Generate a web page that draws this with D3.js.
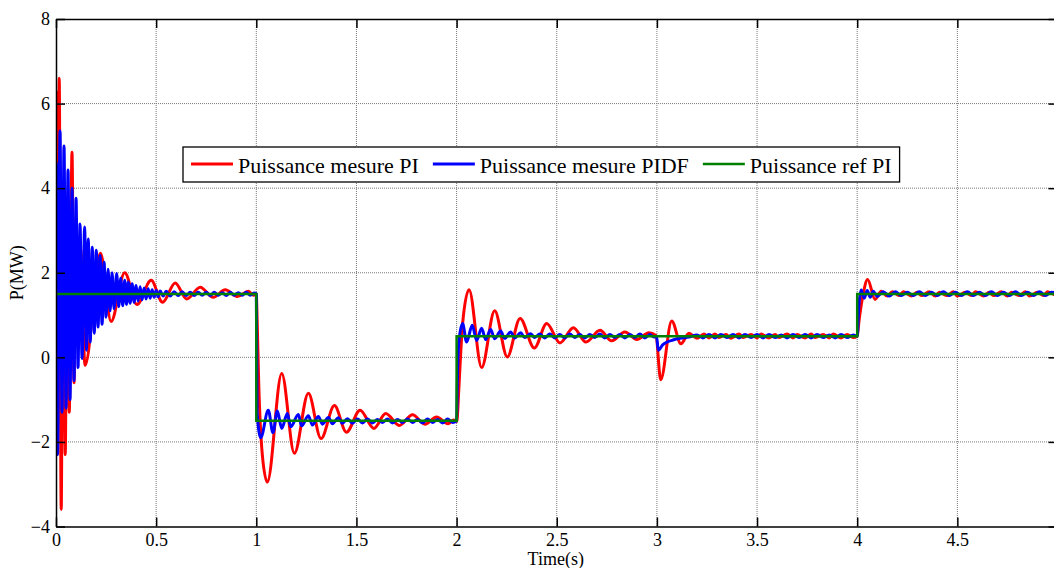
<!DOCTYPE html>
<html>
<head>
<meta charset="utf-8">
<script src="https://cdn.jsdelivr.net/npm/d3@7/dist/d3.min.js"></script>
<style>
  html, body { margin: 0; padding: 0; background: #fff; overflow: hidden; }
  svg { display: block; }
  text { font-family: "Liberation Serif", "Times New Roman", serif; fill: #000; }
</style>
</head>
<body>
<svg id="chart" width="1054" height="568"></svg>
<script>
// Axis ticks (the 5 s tick sits on the right edge, unlabelled)
const xTicks = [0, 0.5, 1, 1.5, 2, 2.5, 3, 3.5, 4, 4.5];
const yTicks = [-4, -2, 0, 2, 4, 6, 8];
const xLabel = "Time(s)";
const yLabel = "P(MW)";
const seriesNames = ["Puissance mesure PI", "Puissance mesure PIDF", "Puissance ref PI"];

// Reference power (MW) — steps
const refPI = [[0, 1.5], [1, -1.5], [2, 0.5], [4, 1.5], [5, 1.5]];

// Measured power, PI controller: [time (s), power (MW)]
const piStart = [[0,1.5],[0.003,6.27],[0.009,-1.2],[0.016,6.6],[0.026,-3.6],[0.035,4.0],[0.046,-2.3],[0.056,3.6],[0.066,-1.3],[0.08,4.85],[0.09,-0.6],[0.1,3.3],[0.112,0.3],[0.122,2.6],[0.145,-0.19],[0.222,2.46],[0.275,0.85],[0.343,2.0],[0.404,1.25],[0.475,1.82],[0.532,1.3],[0.595,1.76],[0.652,1.38],[0.72,1.66],[0.785,1.42],[0.845,1.6],[0.905,1.44],[0.96,1.56],[0.985,1.47],[1.0,1.5]];
const piStep1 = [[1.003,1.1],[1.012,-0.6],[1.03,-2.3],[1.055,-2.95],[1.127,-0.38],[1.19,-2.27],[1.26,-0.85],[1.323,-1.92],[1.39,-1.14],[1.45,-1.77],[1.518,-1.25],[1.587,-1.68],[1.646,-1.33],[1.714,-1.61],[1.78,-1.36],[1.842,-1.58],[1.9,-1.41],[1.957,-1.57],[1.985,-1.48],[2.0,-1.52]];
const piStep2 = [[2.003,-1.45],[2.01,-0.85],[2.03,0.8],[2.062,1.6],[2.125,-0.24],[2.19,1.1],[2.253,0.01],[2.317,0.92],[2.388,0.22],[2.45,0.8],[2.516,0.34],[2.583,0.7],[2.646,0.36],[2.716,0.64],[2.774,0.39],[2.84,0.6],[2.9,0.42],[2.96,0.58],[2.995,0.52],[3.019,-0.53],[3.074,0.86],[3.12,0.32],[3.16,0.57],[3.2,0.45],[3.235,0.55]];
const piSteady3 = [[3.26,0.46],[3.29,0.55],[3.31,0.47],[3.345,0.54],[3.37,0.45],[3.41,0.55],[3.43,0.47],[3.47,0.54],[3.5,0.46],[3.52,0.55],[3.56,0.46],[3.59,0.54],[3.61,0.47],[3.65,0.55],[3.68,0.46],[3.7,0.54],[3.74,0.46],[3.77,0.55],[3.79,0.47],[3.83,0.54],[3.86,0.46],[3.88,0.55],[3.92,0.46],[3.95,0.54],[3.98,0.47],[4.0,0.5]];
const piStep4 = [[4.01,0.9],[4.03,1.5],[4.052,1.84],[4.089,1.37],[4.12,1.56],[4.15,1.45],[4.175,1.55],[4.21,1.46],[4.23,1.55],[4.27,1.45],[4.3,1.54],[4.32,1.46],[4.36,1.55],[4.39,1.45],[4.41,1.54],[4.45,1.46],[4.48,1.55],[4.5,1.45],[4.54,1.54],[4.57,1.46],[4.59,1.55],[4.63,1.45],[4.66,1.54],[4.68,1.46],[4.72,1.55],[4.75,1.45],[4.77,1.54],[4.81,1.46],[4.84,1.55],[4.86,1.45],[4.9,1.54],[4.93,1.46],[4.95,1.55],[4.99,1.46]];

// Measured power, PIDF controller: [time (s), power (MW)]
const pidfStart = [[0,1.5],[0.002,4.6],[0.008,-2.3],[0.02,5.35],[0.03,-1.3],[0.04,5.0],[0.05,-1.2],[0.06,4.43],[0.07,-1.0],[0.08,4.0],[0.09,-0.55],[0.1,3.76],[0.11,-0.24],[0.12,3.15],[0.13,-0.03],[0.143,3.08],[0.152,0.17],[0.161,2.8],[0.171,0.36],[0.181,2.6],[0.191,0.57],[0.201,2.53],[0.21,0.72],[0.22,2.41],[0.23,0.78],[0.24,2.25],[0.25,0.95],[0.26,2.08],[0.27,1.1],[0.28,2.0],[0.29,1.15],[0.303,1.98],[0.313,1.2],[0.323,1.87],[0.333,1.22],[0.343,1.82],[0.352,1.25],[0.361,1.78],[0.37,1.28],[0.38,1.74],[0.39,1.3],[0.4,1.7],[0.41,1.33],[0.42,1.67],[0.43,1.36],[0.44,1.64],[0.45,1.38],[0.46,1.62],[0.47,1.4],[0.48,1.6],[0.49,1.42],[0.5,1.58],[0.51,1.43],[0.52,1.57],[0.535,1.45]];
const pidfSteady0 = [[0.55,1.56],[0.57,1.45],[0.59,1.55],[0.61,1.46],[0.63,1.55],[0.65,1.46],[0.67,1.54],[0.69,1.46],[0.71,1.54],[0.73,1.47],[0.75,1.54],[0.77,1.46],[0.79,1.54],[0.81,1.47],[0.83,1.53],[0.85,1.46],[0.87,1.54],[0.89,1.47],[0.91,1.53],[0.93,1.47],[0.95,1.54],[0.97,1.47],[0.99,1.52],[1.0,1.5]];
const pidfStep1 = [[1.004,-1.3],[1.022,-1.9],[1.06,-1.25],[1.083,-1.78],[1.105,-1.27],[1.127,-1.68],[1.155,-1.33],[1.172,-1.64],[1.21,-1.35],[1.226,-1.62],[1.26,-1.38],[1.28,-1.6],[1.31,-1.4],[1.33,-1.58],[1.36,-1.42],[1.38,-1.57],[1.41,-1.43],[1.43,-1.56],[1.455,-1.45],[1.48,-1.56],[1.505,-1.46],[1.53,-1.55],[1.555,-1.46],[1.58,-1.55],[1.605,-1.47],[1.63,-1.54],[1.655,-1.46],[1.68,-1.55],[1.705,-1.47],[1.73,-1.54],[1.755,-1.46],[1.78,-1.54],[1.805,-1.47],[1.83,-1.55],[1.855,-1.46],[1.88,-1.54],[1.905,-1.47],[1.93,-1.55],[1.955,-1.46],[1.98,-1.54],[2.0,-1.5]];
const pidfStep2 = [[2.004,-0.5],[2.012,0.4],[2.03,0.8],[2.05,0.36],[2.078,0.76],[2.1,0.4],[2.125,0.69],[2.145,0.42],[2.17,0.66],[2.19,0.44],[2.22,0.62],[2.24,0.45],[2.27,0.6],[2.29,0.46],[2.32,0.58],[2.34,0.47],[2.37,0.56],[2.39,0.47],[2.415,0.55],[2.44,0.46],[2.465,0.55],[2.49,0.46],[2.515,0.54],[2.54,0.46],[2.565,0.55],[2.59,0.47],[2.615,0.54],[2.64,0.46],[2.665,0.54],[2.69,0.47],[2.715,0.55],[2.74,0.46],[2.765,0.54],[2.79,0.47],[2.815,0.54],[2.84,0.46],[2.865,0.54],[2.89,0.47],[2.915,0.55],[2.94,0.46],[2.965,0.54],[2.985,0.48],[2.998,0.5]];
const pidfDip3 = [[3.007,0.17],[3.03,0.3],[3.05,0.36],[3.08,0.41],[3.115,0.45],[3.16,0.48],[3.2,0.53],[3.23,0.46],[3.26,0.54],[3.29,0.46],[3.32,0.54],[3.35,0.47],[3.38,0.54],[3.41,0.46],[3.44,0.54],[3.47,0.47],[3.5,0.54],[3.53,0.46],[3.56,0.54],[3.59,0.47],[3.62,0.53],[3.65,0.46],[3.68,0.54],[3.71,0.47],[3.74,0.54],[3.77,0.46],[3.8,0.54],[3.83,0.47],[3.86,0.53],[3.89,0.46],[3.92,0.54],[3.95,0.47],[3.98,0.53],[4.0,0.5]];
const pidfStep4 = [[4.008,1.2],[4.02,1.59],[4.035,1.4],[4.05,1.58],[4.065,1.42],[4.08,1.56],[4.1,1.44],[4.13,1.55],[4.16,1.45],[4.19,1.55],[4.22,1.46],[4.25,1.54],[4.28,1.46],[4.31,1.55],[4.34,1.46],[4.37,1.54],[4.4,1.46],[4.43,1.55],[4.46,1.46],[4.49,1.54],[4.52,1.46],[4.55,1.55],[4.58,1.46],[4.61,1.54],[4.64,1.46],[4.67,1.55],[4.7,1.46],[4.73,1.54],[4.76,1.46],[4.79,1.55],[4.82,1.46],[4.85,1.54],[4.88,1.46],[4.91,1.55],[4.94,1.46],[4.97,1.54],[5.0,1.5]];

const piMeasured = [].concat(piStart, piStep1, piStep2, piSteady3, piStep4);
const pidfMeasured = [].concat(pidfStart, pidfSteady0, pidfStep1, pidfStep2, pidfDip3, pidfStep4);

// Layout
const FONT = '"Liberation Serif", "Times New Roman", serif';
const svg = d3.select("#chart");
const plot = { left: 56, right: 1057.5, top: 19, bottom: 526.5 };

const x = d3.scaleLinear().domain([0, 5]).range([plot.left, plot.right]);
const y = d3.scaleLinear().domain([-4, 8]).range([plot.bottom, plot.top]);

svg.append("defs").append("clipPath").attr("id", "plotClip")
  .append("rect")
  .attr("x", plot.left).attr("y", plot.top)
  .attr("width", plot.right - plot.left).attr("height", plot.bottom - plot.top);

// Dotted grid
const grid = svg.append("g").attr("class", "grid");
grid.selectAll("line.gx").data(xTicks.slice(1)).join("line")
  .attr("x1", d => x(d)).attr("x2", d => x(d))
  .attr("y1", plot.top).attr("y2", plot.bottom)
  .attr("stroke", "#7a7a7a").attr("stroke-width", 1).attr("stroke-dasharray", "1,1");
grid.selectAll("line.gy").data(yTicks.slice(1, -1)).join("line")
  .attr("x1", plot.left).attr("x2", plot.right)
  .attr("y1", d => y(d)).attr("y2", d => y(d))
  .attr("stroke", "#7a7a7a").attr("stroke-width", 1).attr("stroke-dasharray", "1,1");

// Series
const lineGen = d3.line().x(d => x(d[0])).y(d => y(d[1])).curve(d3.curveMonotoneX);
const stepGen = d3.line().x(d => x(d[0])).y(d => y(d[1])).curve(d3.curveStepAfter);

const series = svg.append("g").attr("clip-path", "url(#plotClip)");
series.append("path").datum(piMeasured).attr("d", lineGen)
  .attr("fill", "none").attr("stroke", "#ff0000").attr("stroke-width", 3).attr("stroke-linejoin", "round");
series.append("path").datum(pidfMeasured).attr("d", lineGen)
  .attr("fill", "none").attr("stroke", "#0000ff").attr("stroke-width", 3).attr("stroke-linejoin", "round");
series.append("path").datum(refPI).attr("d", stepGen)
  .attr("fill", "none").attr("stroke", "#008000").attr("stroke-width", 2.5);

// Axes: closed box with inward ticks on all four sides
const tickLen = 9;
const axisG = svg.append("g");
const xAxisB = d3.axisBottom(x).tickValues(xTicks).tickSizeInner(-tickLen).tickSizeOuter(0).tickPadding(7).tickFormat(d3.format("~g"));
const xAxisT = d3.axisTop(x).tickValues(xTicks).tickSizeInner(-tickLen).tickSizeOuter(0).tickFormat("");
const yAxisL = d3.axisLeft(y).tickValues(yTicks).tickSizeInner(-tickLen).tickSizeOuter(0).tickPadding(6).tickFormat(d3.format("~g"));
const yAxisR = d3.axisRight(y).tickValues(yTicks).tickSizeInner(-tickLen).tickSizeOuter(0).tickFormat("");

function styleAxis(g) {
  g.attr("font-family", FONT).attr("font-size", 18);
  g.select(".domain").attr("stroke", "#000").attr("stroke-width", 1.5);
  g.selectAll(".tick line").attr("stroke", "#000").attr("stroke-width", 1.5);
  g.selectAll(".tick text").style("font-family", FONT).style("font-size", "18px").attr("fill", "#000");
}
axisG.append("g").attr("transform", `translate(0,${plot.bottom})`).call(xAxisB).call(styleAxis);
axisG.append("g").attr("transform", `translate(0,${plot.top})`).call(xAxisT).call(styleAxis);
axisG.append("g").attr("transform", `translate(${plot.left},0)`).call(yAxisL).call(styleAxis);
axisG.append("g").attr("transform", `translate(${plot.right},0)`).call(yAxisR).call(styleAxis);

// Axis titles
svg.append("text").attr("x", (plot.left + plot.right) / 2 - 1).attr("y", 565)
  .attr("text-anchor", "middle").style("font-size", "18px").text(xLabel);
svg.append("text").attr("transform", `translate(23,${y(2)}) rotate(-90)`)
  .attr("text-anchor", "middle").style("font-size", "18px").text(yLabel);

// Legend
const legendColors = ["#ff0000", "#0000ff", "#008000"];
const legendWidths = [3, 3, 2.5];
const legend = svg.append("g");
const box = legend.append("rect").attr("x", 183).attr("y", 147).attr("height", 35)
  .attr("fill", "#fff").attr("stroke", "#000").attr("stroke-width", 1.3);
let cx = 191;
seriesNames.forEach((name, i) => {
  legend.append("line").attr("x1", cx).attr("x2", cx + 42).attr("y1", 164).attr("y2", 164)
    .attr("stroke", legendColors[i]).attr("stroke-width", legendWidths[i]);
  const t = legend.append("text").attr("x", cx + 47).attr("y", 173)
    .style("font-size", "22px").text(name);
  cx = cx + 47 + t.node().getComputedTextLength() + 14;
});
box.attr("width", cx - 14 + 8 - 183);
</script>
</body>
</html>
